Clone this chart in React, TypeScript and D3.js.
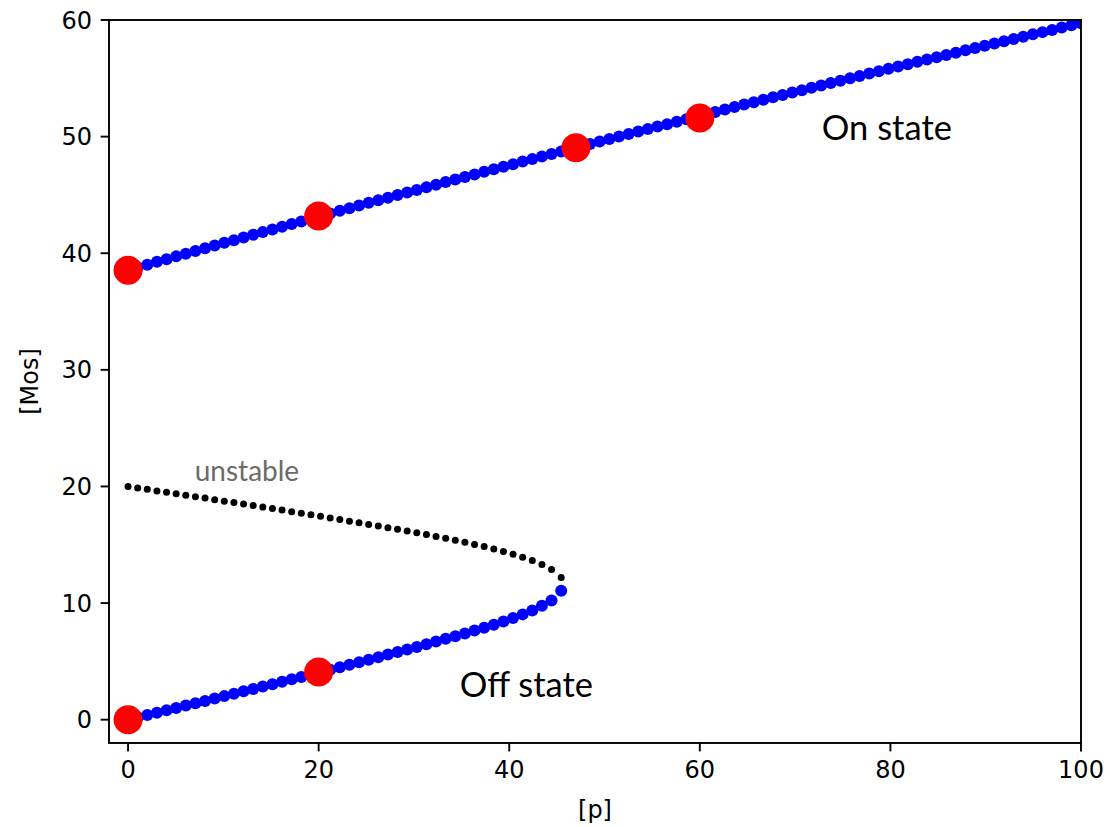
import React from "react"
import * as d3 from "d3"

const WIDTH = 1110
const HEIGHT = 827
const MARGIN = { top: 20, right: 29, bottom: 84, left: 109 }

// p grid used for all computed branches
const pGrid = [
	0, 1.01, 2.02, 3.03, 4.04, 5.05, 6.06, 7.07, 8.08, 9.09, 10.1, 11.11, 12.12, 13.13, 14.14, 15.15, 16.16,
	17.17, 18.18, 19.19, 20.2, 21.21, 22.22, 23.23, 24.24, 25.25, 26.26, 27.27, 28.28, 29.29, 30.3, 31.31,
	32.32, 33.33, 34.34, 35.35, 36.36, 37.37, 38.38, 39.39, 40.4, 41.41, 42.42, 43.43, 44.44, 45.45, 46.46,
	47.47, 48.48, 49.49, 50.51, 51.52, 52.53, 53.54, 54.55, 55.56, 56.57, 57.58, 58.59, 59.6, 60.61, 61.62,
	62.63, 63.64, 64.65, 65.66, 66.67, 67.68, 68.69, 69.7, 70.71, 71.72, 72.73, 73.74, 74.75, 75.76, 76.77,
	77.78, 78.79, 79.8, 80.81, 81.82, 82.83, 83.84, 84.85, 85.86, 86.87, 87.88, 88.89, 89.9, 90.91, 91.92,
	92.93, 93.94, 94.95, 95.96, 96.97, 97.98, 98.99, 100,
]

// On state (high branch), one value per pGrid entry
const onState = [
	38.55, 38.79, 39.02, 39.26, 39.49, 39.73, 39.96, 40.19, 40.43, 40.66, 40.89, 41.12, 41.35, 41.58, 41.81,
	42.04, 42.27, 42.5, 42.73, 42.96, 43.18, 43.41, 43.64, 43.86, 44.09, 44.32, 44.54, 44.76, 44.99, 45.21,
	45.43, 45.66, 45.88, 46.1, 46.32, 46.54, 46.76, 46.98, 47.2, 47.42, 47.64, 47.86, 48.07, 48.29, 48.51,
	48.72, 48.94, 49.16, 49.37, 49.58, 49.8, 50.01, 50.23, 50.44, 50.65, 50.86, 51.07, 51.28, 51.49, 51.7,
	51.91, 52.12, 52.33, 52.54, 52.75, 52.95, 53.16, 53.37, 53.57, 53.78, 53.98, 54.19, 54.39, 54.6, 54.8,
	55.0, 55.2, 55.41, 55.61, 55.81, 56.01, 56.21, 56.41, 56.61, 56.81, 57.0, 57.2, 57.4, 57.6, 57.79,
	57.99, 58.18, 58.38, 58.57, 58.77, 58.96, 59.15, 59.35, 59.54, 59.73,
]

// Off state (low branch), first 46 pGrid entries
const offState = [
	0, 0.2, 0.4, 0.6, 0.8, 1.0, 1.21, 1.41, 1.61, 1.82, 2.02, 2.22, 2.43, 2.63, 2.84, 3.04, 3.25, 3.46,
	3.66, 3.87, 4.08, 4.29, 4.5, 4.71, 4.92, 5.14, 5.36, 5.58, 5.8, 6.02, 6.24, 6.47, 6.7, 6.93, 7.16,
	7.4, 7.64, 7.88, 8.14, 8.42, 8.71, 9.03, 9.37, 9.77, 10.23, 11.06,
]

// unstable middle branch, first 46 pGrid entries
const unstable = [
	20.0, 19.87, 19.75, 19.62, 19.5, 19.37, 19.25, 19.12, 19.0, 18.87, 18.74, 18.62, 18.49, 18.36, 18.23,
	18.1, 17.97, 17.84, 17.71, 17.57, 17.44, 17.3, 17.16, 17.02, 16.88, 16.74, 16.6, 16.46, 16.32, 16.17,
	16.02, 15.87, 15.71, 15.55, 15.38, 15.21, 15.03, 14.84, 14.64, 14.42, 14.19, 13.93, 13.65, 13.3, 12.88,
	12.2,
]

// highlighted simulation end points
const markerP = [0, 20, 47, 60, 0, 20]
const markerM = [38.55, 43.2, 49.05, 51.6, 0, 4.08]

const xTicks = [0, 20, 40, 60, 80, 100]
const yTicks = [0, 10, 20, 30, 40, 50, 60]

const labelText = ["On state", "Off state", "unstable"]
const labelP = [72.8, 34.8, 7.0]
const labelM = [49.7, 1.97, 20.5]

const App = () => {
	const innerW = WIDTH - MARGIN.left - MARGIN.right
	const innerH = HEIGHT - MARGIN.top - MARGIN.bottom

	const x = d3.scaleLinear().domain([-2, 100]).range([0, innerW])
	const y = d3.scaleLinear().domain([-2, 60]).range([innerH, 0])

	const onPts = onState.map((m, i) => [pGrid[i], m])
	const offPts = offState.map((m, i) => [pGrid[i], m])
	const unPts = unstable.map((m, i) => [pGrid[i], m])

	const tickFont = "DejaVu Sans, sans-serif"
	const annFont = "Lato, 'Open Sans', sans-serif"

	return (
		<div style={{ position: "absolute", left: 0, top: 0 }}>
			<svg width={WIDTH} height={HEIGHT} style={{ display: "block", background: "#fff" }}>
				<defs>
					<clipPath id="plot-clip">
						<rect width={innerW} height={innerH} />
					</clipPath>
				</defs>
				<g transform={`translate(${MARGIN.left},${MARGIN.top})`}>
					<g clipPath="url(#plot-clip)">
						{onPts.map((d, i) => (
							<circle key={"on" + i} cx={x(d[0])} cy={y(d[1])} r={6} fill="#0000ff" />
						))}
						{offPts.map((d, i) => (
							<circle key={"off" + i} cx={x(d[0])} cy={y(d[1])} r={6} fill="#0000ff" />
						))}
						{unPts.map((d, i) => (
							<circle key={"un" + i} cx={x(d[0])} cy={y(d[1])} r={3.5} fill="#000" />
						))}
						{markerP.map((p, i) => (
							<circle key={"mk" + i} cx={x(p)} cy={y(markerM[i])} r={14.5} fill="#ff0000" />
						))}
					</g>

					{labelText.map((t, i) => (
						<text
							key={t}
							x={x(labelP[i])}
							y={y(labelM[i])}
							fontFamily={annFont}
							fontSize={i === 2 ? 28 : 34.5}
							fill={i === 2 ? "#6b6b6b" : "#000"}
						>
							{t}
						</text>
					))}

					{/* spines */}
					<rect
						x={0}
						y={0}
						width={innerW}
						height={innerH}
						fill="none"
						stroke="#000"
						strokeWidth={1.9}
					/>

					{/* x axis */}
					{xTicks.map((t) => (
						<g key={"xt" + t} transform={`translate(${x(t)},${innerH})`}>
							<line y1={0} y2={8.4} stroke="#000" strokeWidth={1.9} />
							<text
								y={17}
								dy="0.76em"
								textAnchor="middle"
								fontFamily={tickFont}
								fontSize={24}
								fill="#000"
							>
								{t}
							</text>
						</g>
					))}
					<text
						x={innerW / 2}
						y={innerH + 75}
						textAnchor="middle"
						fontFamily={tickFont}
						fontSize={24}
						fill="#000"
					>
						[p]
					</text>

					{/* y axis */}
					{yTicks.map((t) => (
						<g key={"yt" + t} transform={`translate(0,${y(t)})`}>
							<line x1={0} x2={-8.4} stroke="#000" strokeWidth={1.9} />
							<text
								x={-17}
								dy="0.36em"
								textAnchor="end"
								fontFamily={tickFont}
								fontSize={24}
								fill="#000"
							>
								{t}
							</text>
						</g>
					))}
					<text
						transform={`translate(${-109 + 38},${y(29)}) rotate(-90)`}
						textAnchor="middle"
						fontFamily={tickFont}
						fontSize={24}
						fill="#000"
					>
						[Mos]
					</text>
				</g>
			</svg>
		</div>
	)
}

export default App
